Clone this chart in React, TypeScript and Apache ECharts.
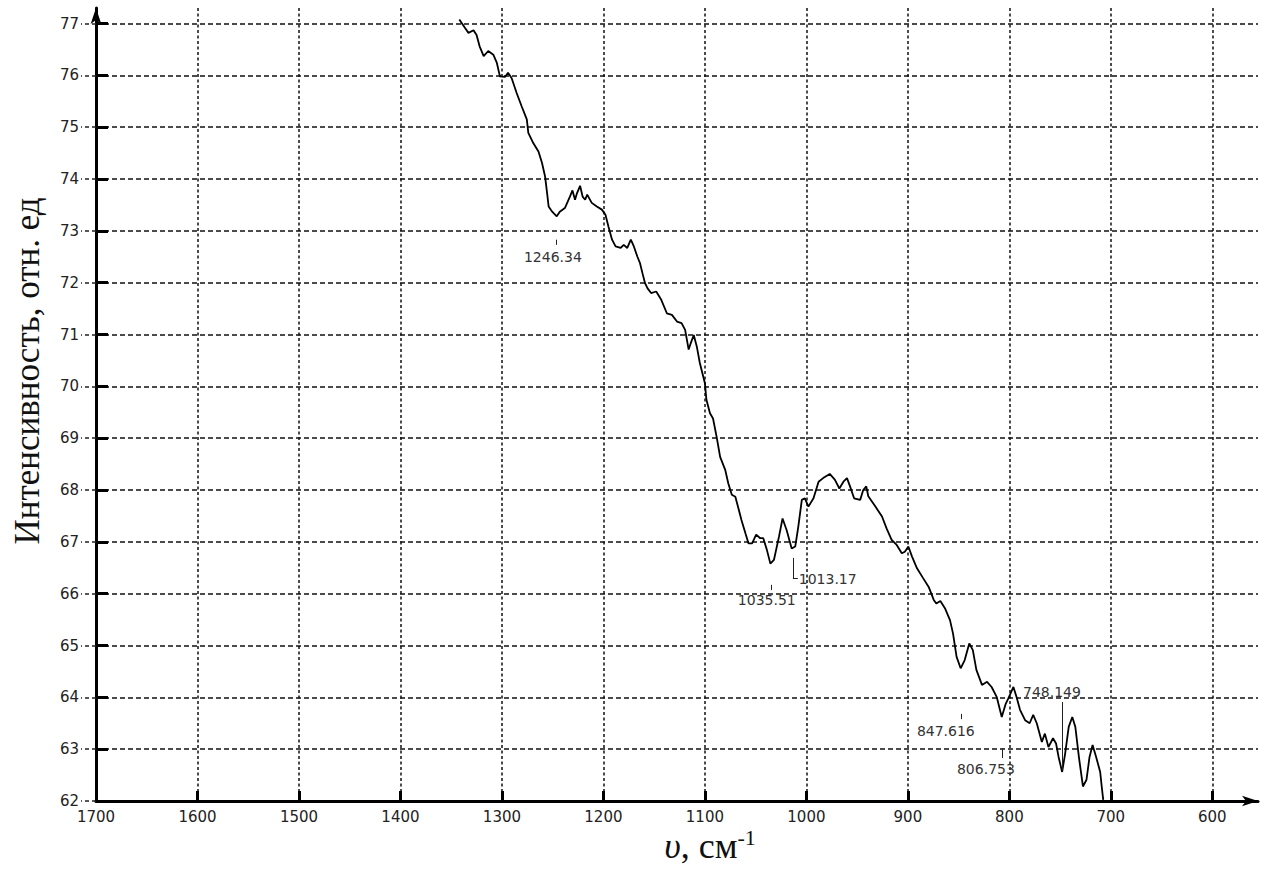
import React, { useEffect, useRef } from "react";
import * as echarts from "echarts";

const wavenumbers = [
  1342, 1336.5, 1333, 1328, 1325, 1322, 1318, 1313.5, 1308.5, 1305, 1302, 1297, 1294, 1290.5, 1285.5, 1280.5,
  1275.5, 1274, 1269, 1264, 1260.5, 1257.5, 1255.5, 1254, 1250.5, 1246, 1243, 1238, 1233, 1230.5, 1228, 1226,
  1223, 1220.5, 1218, 1216, 1211.5, 1206.5, 1201.5, 1198, 1195, 1191.5, 1188, 1183, 1180, 1176.5, 1173, 1170,
  1166.5, 1164, 1161.5, 1159, 1156.5, 1153, 1148, 1143, 1137.5, 1132.5, 1127.5, 1123, 1119.5, 1116, 1114, 1111,
  1108, 1105, 1100, 1098.5, 1095, 1092, 1088.5, 1085, 1080, 1077, 1073.5, 1070, 1067, 1064, 1060, 1057, 1053.5,
  1049.5, 1045.5, 1042.5, 1039, 1035.5, 1032, 1027, 1023.5, 1019.5, 1014.5, 1011, 1008, 1004.5, 1001.5, 998, 993,
  988, 983.5, 977, 972, 967.5, 963.5, 960, 957, 953, 947, 944, 941, 939, 932, 925.5, 921, 916, 911, 906, 903,
  899.5, 896, 891, 885, 879.5, 874.5, 872, 868, 863.5, 858.5, 855.5, 852, 848, 844, 839.5, 836, 832.5, 827, 822,
  817.5, 812.5, 807.5, 803.5, 801, 796, 793, 789.5, 784.5, 780, 776.5, 773, 768, 765, 761.5, 757, 754, 751.5, 748,
  745, 741.5, 738, 735, 731.5, 727.5, 724, 721, 718, 714.5, 710.5, 709, 707.5,
];

const intensity = [
  77.08, 76.92, 76.82, 76.87, 76.78, 76.56, 76.37, 76.47, 76.4, 76.24, 75.98, 75.97, 76.05, 75.95, 75.66, 75.4,
  75.15, 74.89, 74.69, 74.53, 74.31, 74.05, 73.73, 73.47, 73.37, 73.28, 73.37, 73.44, 73.66, 73.78, 73.6, 73.73,
  73.87, 73.66, 73.6, 73.7, 73.54, 73.47, 73.41, 73.31, 73.08, 72.83, 72.7, 72.67, 72.73, 72.67, 72.83, 72.7,
  72.5, 72.38, 72.18, 71.99, 71.89, 71.8, 71.83, 71.67, 71.41, 71.38, 71.25, 71.22, 71.09, 70.71, 70.83, 70.99,
  70.77, 70.45, 70.06, 69.74, 69.48, 69.38, 69.03, 68.64, 68.39, 68.13, 67.91, 67.87, 67.65, 67.42, 67.16, 66.97, 66.97,
  67.14, 67.07, 67.07, 66.85, 66.58, 66.65, 67.1, 67.45, 67.23, 66.87, 66.91, 67.29, 67.81, 67.84, 67.68, 67.84,
  68.16, 68.23, 68.31, 68.2, 68.03, 68.16, 68.23, 68.07, 67.84, 67.81, 68.0, 68.07, 67.88, 67.68, 67.49, 67.26, 67.04, 66.94, 66.78, 66.81,
  66.91, 66.72, 66.49, 66.3, 66.13, 65.88, 65.81, 65.86, 65.72, 65.49, 65.23, 64.78, 64.56, 64.72, 65.04, 64.91, 64.53, 64.24, 64.3,
  64.2, 64.01, 63.62, 63.88, 63.98, 64.2, 64.01, 63.76, 63.56, 63.5, 63.66, 63.5, 63.14, 63.3, 63.04, 63.21, 63.11, 62.85, 62.56,
  62.92, 63.43, 63.62, 63.43, 62.85, 62.28, 62.41, 62.85, 63.08, 62.85, 62.56, 62.28, 62.02,
];

const xTickValues = [1700, 1600, 1500, 1400, 1300, 1200, 1100, 1000, 900, 800, 700, 600];
const yTickValues = [62, 63, 64, 65, 66, 67, 68, 69, 70, 71, 72, 73, 74, 75, 76, 77];

const peakLabels = ["1246.34", "1035.51", "1013.17", "847.616", "806.753", "748.149"];
// label anchor (data coords) for each peak label text
const peakLabelAnchors: [number, number][] = [
  [1249.8, 72.5],
  [1039, 65.88],
  [979, 66.29],
  [862.6, 63.35],
  [823.1, 62.62],
  [758, 64.1],
];
// leader segments [x1, y1, x2, y2]
const leaderSegments: [number, number, number, number][] = [
  [1246.8, 72.73, 1246.8, 72.83],
  [1035, 66.07, 1035, 66.17],
  [1013.3, 66.69, 1013.3, 66.3],
  [1013.3, 66.3, 1008.4, 66.3],
  [847, 63.58, 847, 63.68],
  [807.4, 62.83, 807.4, 63.02],
  [748.3, 63.91, 748.3, 62.6],
];

const yAxisTitle = "Интенсивность, отн. ед";
const xAxisTitle = "{i|υ}{n|, см}{s|-1}";

export default function App() {
  const ref = useRef<HTMLDivElement>(null);
  useEffect(() => {
    if (!ref.current) return;
    const chart = echarts.init(ref.current, null, { renderer: "svg" });
    const data = wavenumbers.map((w, i) => [w, intensity[i]]);
    const tickFont = { fontFamily: "DejaVu Sans", fontSize: 15, color: "#222" };
    chart.setOption({
      animation: false,
      backgroundColor: "#ffffff",
      grid: { left: 96, top: 8, width: 1162, height: 793, containLabel: false },
      graphic: [
        {
          type: "text",
          x: 27,
          y: 371,
          rotation: Math.PI / 2,
          silent: true,
          style: {
            text: yAxisTitle,
            fontFamily: "Liberation Serif",
            fontSize: 35,
            fill: "#111",
            align: "center",
            verticalAlign: "middle",
          },
        },
        {
          type: "text",
          x: 710,
          y: 866,
          silent: true,
          style: {
            text: xAxisTitle,
            align: "center",
            verticalAlign: "bottom",
            rich: {
              i: { fontFamily: "Liberation Serif", fontStyle: "italic", fontSize: 36, fill: "#111", lineHeight: 40 },
              n: { fontFamily: "Liberation Serif", fontSize: 36, fill: "#111", lineHeight: 40 },
              s: { fontFamily: "Liberation Serif", fontSize: 22, fill: "#111", verticalAlign: "top", lineHeight: 40, padding: [0, 0, 8, 0] },
            },
          },
        },
      ],
      xAxis: {
        type: "value",
        inverse: true,
        min: 555,
        max: 1700,
        axisLine: {
          show: true,
          onZero: false,
          symbol: ["none", "arrow"],
          symbolSize: [8, 16],
          lineStyle: { color: "#000", width: 3 },
        },
        axisTick: { show: true, inside: true, length: 10, lineStyle: { color: "#000", width: 3 }, customValues: xTickValues },
        axisLabel: { ...tickFont, margin: 8, customValues: xTickValues, formatter: (v: number) => String(v) },
        splitLine: { show: true, lineStyle: { color: "#111", width: 1.5, type: [3, 2.5] } },
      },
      yAxis: [
        {
          type: "value",
          min: 62,
          max: 77.3,
          axisLine: {
            show: true,
            onZero: false,
            symbol: ["none", "arrow"],
            symbolSize: [8, 16],
            lineStyle: { color: "#000", width: 3 },
          },
          axisTick: { show: true, inside: true, length: 12, lineStyle: { color: "#000", width: 3 }, customValues: yTickValues },
          axisLabel: { ...tickFont, margin: 17, customValues: yTickValues, formatter: (v: number) => String(v) },
          splitLine: { show: true, lineStyle: { color: "#111", width: 1.5, type: [5, 3] } },
        },
        {
          type: "value",
          min: 62,
          max: 77.3,
          position: "left",
          axisLine: { show: false },
          axisTick: { show: true, inside: false, length: 15, lineStyle: { color: "#222", width: 1.5, type: [4, 3] }, customValues: yTickValues },
          axisLabel: { show: false },
          splitLine: { show: false },
        },
      ],
      series: [
        {
          type: "line",
          data,
          showSymbol: false,
          symbol: "none",
          lineStyle: { color: "#000", width: 1.8 },
          silent: true,
          markPoint: {
            symbol: "circle",
            symbolSize: 1,
            silent: true,
            itemStyle: { color: "rgba(0,0,0,0)" },
            label: {
              show: true,
              position: "inside",
              formatter: "{b}",
              fontFamily: "DejaVu Sans",
              fontSize: 14,
              color: "#333",
            },
            data: peakLabels.map((name, i) => ({ name, coord: peakLabelAnchors[i] })),
          },
          markLine: {
            symbol: "none",
            silent: true,
            label: { show: false },
            lineStyle: { color: "#222", width: 1, type: "solid" },
            data: leaderSegments.map((s) => [{ coord: [s[0], s[1]] }, { coord: [s[2], s[3]] }]),
          },
        },
      ],
    });
    return () => chart.dispose();
  }, []);
  return (
    <div
      ref={ref}
      style={{ position: "absolute", left: 0, top: 0, width: 1271, height: 870, background: "#fff" }}
    />
  );
}
